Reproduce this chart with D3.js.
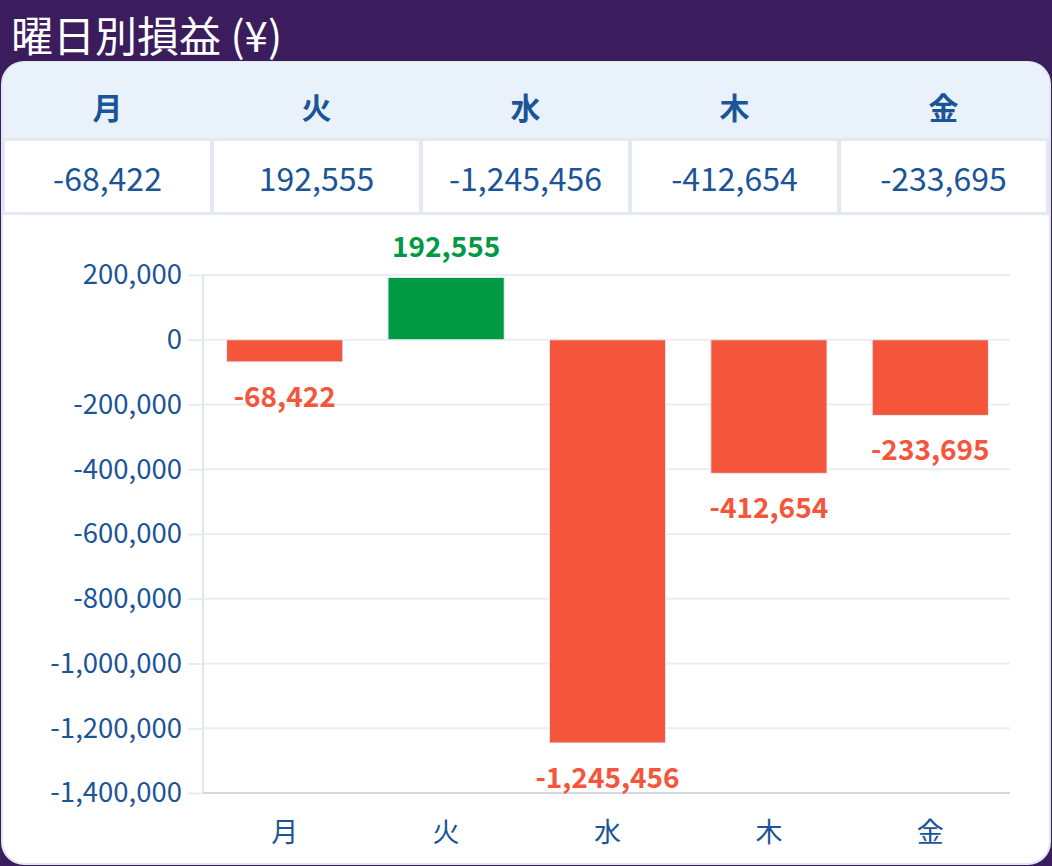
<!DOCTYPE html>
<html>
<head>
<meta charset="utf-8">
<script src="https://cdn.jsdelivr.net/npm/d3@7"></script>
<style>
  html, body { margin: 0; padding: 0; background: #3b1d5e; }
  svg { display: block; }
  text { font-family: "Noto Sans CJK JP", "Noto Sans", sans-serif; }
</style>
</head>
<body>
<div class="container"></div>
<script>
const days = ["月", "火", "水", "木", "金"]
const profits = [-68422, 192555, -1245456, -412654, -233695]
const title = "曜日別損益 (¥)"

const width = 1052
const height = 866

const fmt = d3.formatLocale({ decimal: ".", thousands: ",", grouping: [3], currency: ["", ""], minus: "-" }).format(",")

const blue = "#1b5598"
const red = "#f5553b"
const green = "#009944"

const svg = d3.select(".container")
    .append("svg")
    .attr("width", width)
    .attr("height", height)

svg.append("rect")
    .attr("width", width)
    .attr("height", height)
    .attr("fill", "#3b1d5e")

svg.append("text")
    .attr("x", 11)
    .attr("y", 52)
    .attr("fill", "#fff")
    .attr("font-size", 42)
    .text(title)

// card
const defs = svg.append("defs")
defs.append("clipPath")
    .attr("id", "card-clip")
    .append("rect")
    .attr("x", 3).attr("y", 62)
    .attr("width", 1046).attr("height", 802)
    .attr("rx", 22)

svg.append("rect")
    .attr("x", 2).attr("y", 62)
    .attr("width", 1048).attr("height", 802)
    .attr("rx", 22)
    .attr("fill", "#fff")
    .attr("stroke", "#dfe6ee")
    .attr("stroke-width", 2)

const card = svg.append("g").attr("clip-path", "url(#card-clip)")

// header row + value row
card.append("rect")
    .attr("x", 0).attr("y", 62)
    .attr("width", width).attr("height", 76)
    .attr("fill", "#e9f2fa")

card.append("rect")
    .attr("x", 0).attr("y", 138)
    .attr("width", width).attr("height", 77)
    .attr("fill", "#e2e9f1")

const col = d3.scaleBand()
    .domain(days)
    .range([3, 1048])
    .paddingInner(0.02)
    .paddingOuter(0.01)

card.selectAll(".cell")
    .data(days)
    .join("rect")
    .attr("class", "cell")
    .attr("x", d => col(d))
    .attr("y", 141)
    .attr("width", col.bandwidth())
    .attr("height", 71)
    .attr("fill", "#fff")

card.selectAll(".head")
    .data(days)
    .join("text")
    .attr("class", "head")
    .attr("x", d => col(d) + col.bandwidth() / 2)
    .attr("y", 106)
    .attr("text-anchor", "middle")
    .attr("dominant-baseline", "central")
    .attr("font-size", 30)
    .attr("font-weight", 700)
    .attr("fill", blue)
    .text(d => d)

card.selectAll(".val")
    .data(profits)
    .join("text")
    .attr("class", "val")
    .attr("x", (d, i) => col(days[i]) + col.bandwidth() / 2)
    .attr("y", 177)
    .attr("text-anchor", "middle")
    .attr("dominant-baseline", "central")
    .attr("font-size", 32)
    .attr("fill", blue)
    .text(d => fmt(d))

// chart
const x = d3.scaleBand()
    .domain(days)
    .range([204, 1011])
    .paddingInner(0.28)
    .paddingOuter(0.14)

const y = d3.scaleLinear()
    .domain([-1400000, 200000])
    .range([793, 275])

const yAxis = svg.append("g")
    .attr("transform", "translate(203,0)")
    .call(d3.axisLeft(y).ticks(8).tickFormat(fmt).tickSize(15).tickPadding(6))

yAxis.select(".domain").remove()
yAxis.selectAll(".tick line")
    .attr("stroke", "#e6ecf3")
    .attr("stroke-width", 2)
yAxis.selectAll(".tick text")
    .attr("fill", blue)
    .attr("font-size", 27.5)
    .attr("font-family", "Noto Sans CJK JP")

// grid lines
svg.append("g")
    .selectAll("line")
    .data(y.ticks(8))
    .join("line")
    .attr("x1", 203).attr("x2", 1010)
    .attr("y1", d => y(d)).attr("y2", d => y(d))
    .attr("stroke", "#e9eef5")
    .attr("stroke-width", 2)

svg.append("line")
    .attr("x1", 203).attr("x2", 203)
    .attr("y1", 275).attr("y2", 793)
    .attr("stroke", "#e1e7ef")
    .attr("stroke-width", 2)

svg.append("line")
    .attr("x1", 203).attr("x2", 1010)
    .attr("y1", 793).attr("y2", 793)
    .attr("stroke", "#d3d9e3")
    .attr("stroke-width", 2)

const xAxis = svg.append("g")
    .attr("transform", "translate(0,793)")
    .call(d3.axisBottom(x).tickSize(0).tickPadding(40))

xAxis.select(".domain").remove()
xAxis.selectAll(".tick text")
    .attr("fill", blue)
    .attr("font-size", 27)
    .attr("font-family", "Noto Sans CJK JP")
    .attr("dy", "0.32em")

svg.append("g")
    .selectAll("rect")
    .data(profits)
    .join("rect")
    .attr("x", (d, i) => x(days[i]))
    .attr("y", d => y(Math.max(0, d)))
    .attr("width", x.bandwidth())
    .attr("height", d => Math.abs(y(d) - y(0)))
    .attr("fill", d => d < 0 ? red : green)
    .attr("stroke", "#e3edf3")
    .attr("stroke-width", 1)

svg.append("g")
    .selectAll("text")
    .data(profits)
    .join("text")
    .attr("x", (d, i) => x(days[i]) + x.bandwidth() / 2)
    .attr("y", d => d < 0 ? y(d) + 45 : y(d) - 20)
    .attr("text-anchor", "middle")
    .attr("font-size", 28)
    .attr("font-weight", 700)
    .attr("fill", d => d < 0 ? red : green)
    .text(d => fmt(d))
</script>
</body>
</html>
